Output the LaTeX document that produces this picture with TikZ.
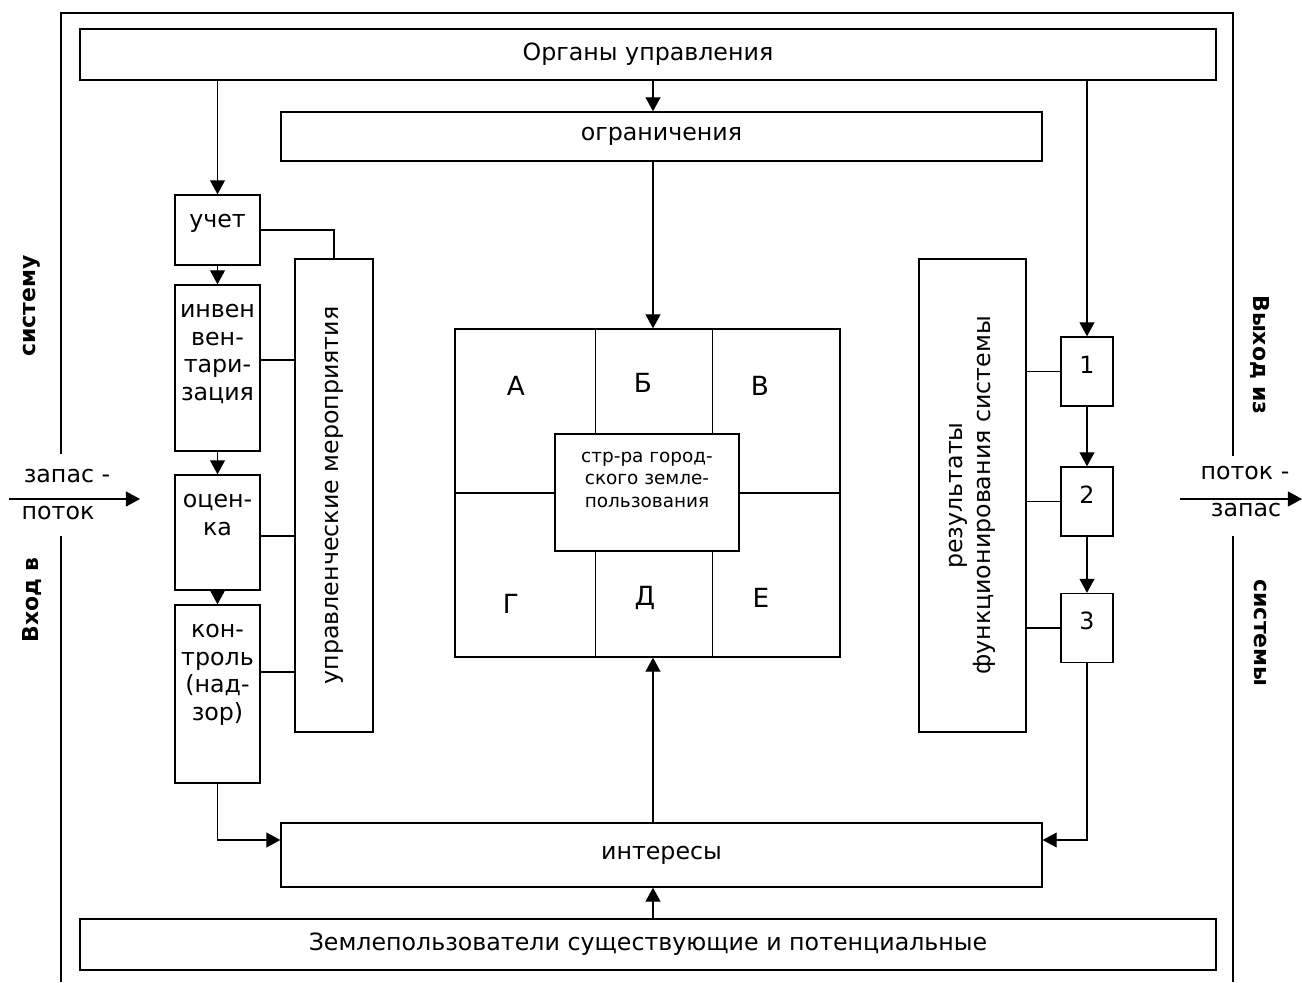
\documentclass[tikz,border=0pt]{standalone}
\usepackage{fontspec}
\setmainfont{DejaVu Sans}
\usetikzlibrary{arrows.meta,calc,positioning}
\newcommand{\toptext}[1]{\parbox[t]{2.5cm}{\centering #1}}

\begin{document}
\begin{tikzpicture}[
    x=0.02cm, y=-0.02cm,
    box/.style={draw, line width=0.75pt, inner sep=0pt, fill=white},
    sz/.style 2 args={minimum width=#1*0.02cm, minimum height=#2*0.02cm},
    lbl/.style={font=\fontsize{13.5}{15.8}\selectfont, inner sep=0pt},
    letter/.style={font=\fontsize{15}{17}\selectfont, inner sep=0pt, anchor=base},
    small/.style={font=\fontsize{10.5}{12.8}\selectfont, inner sep=0pt},
    side/.style={font=\fontsize{12.5}{14}\selectfont\bfseries, inner sep=0pt},
    num/.style={box, sz={52}{69}, lbl, text depth=8pt},
    wire/.style={line width=0.75pt},
    frame/.style={line width=1pt},
    >={Triangle[length=8pt,width=8.5pt]}
  ]
  \useasboundingbox (0,0) rectangle (1302,983);

  % outer frame
  \draw[frame] (61,454) -- (61,13) -- (1233,13) -- (1233,456);
  \draw[frame] (61,536) -- (61,982);
  \draw[frame] (1233,536) -- (1233,982);

  \node[box, sz={1136}{51}, lbl] (org) at (648,54.5) {Органы управления};
  \node[box, sz={761}{49}, lbl] (limit) at (661.5,136.5) {ограничения};
  \node[box, sz={761}{64}, lbl] (interes) at (661.5,855) {интересы};
  \node[box, sz={1136}{51}, lbl] (zemle) at (648,944.5)
    {Землепользователи существующие и потенциальные};

  % left column
  \node[box, sz={85}{70}] (uchet) at (217.5,230) {};
  \node[box, sz={85}{166}] (inv) at (217.5,368) {};
  \node[box, sz={85}{115}] (ocen) at (217.5,532.5) {};
  \node[box, sz={85}{178}] (kontr) at (217.5,694) {};
  \node[lbl, anchor=base] (uchetT) at ($(uchet.north)+(0,33)$) {\toptext{учет}};
  \node[lbl, anchor=base] (invT) at ($(inv.north)+(0,33)$)
    {\toptext{инвен\\вен-\\тари-\\зация}};
  \node[lbl, anchor=base] (ocenT) at ($(ocen.north)+(0,33)$) {\toptext{оцен-\\ка}};
  \node[lbl, anchor=base] (kontrT) at ($(kontr.north)+(0,33)$)
    {\toptext{кон-\\троль\\(над-\\зор)}};
  \node[box, sz={78}{473}] (meropr) at (334,495.5) {};
  \node[lbl, rotate=90] (meroprT) at (meropr) {управленческие мероприятия};

  % right column
  \node[box, sz={107}{473}] (rez) at (972.5,495.5) {};
  \node[lbl, rotate=90, align=center] (rezT) at (rez)
    {результаты\\функционирования системы};
  \node[num] (b1) at (1087,371.5) {1};
  \node[num] (b2) at (1087,501.5) {2};
  \node[num] (b3) at (1087,628) {3};

  % structure
  \node[box, sz={385}{328}] (grid) at (647.5,493) {};
  \draw[wire] ($(grid.north west)+(141,0)$) -- ($(grid.south west)+(141,0)$);
  \draw[wire] ($(grid.north west)+(258,0)$) -- ($(grid.south west)+(258,0)$);
  \draw[wire] (grid.west) -- (grid.east);
  \node[box, sz={184}{117}] (core) at (647,492.5) {};
  \node[small, anchor=base] (coreT) at ($(core.north)+(0,29)$)
    {\parbox[t]{3cm}{\centering стр-ра город-\\ского земле-\\пользования}};
  \node[letter] (cA) at (516,395) {А};
  \node[letter] (cB) at (643,392) {Б};
  \node[letter] (cV) at (760,396) {В};
  \node[letter] (cG) at (511,613) {Г};
  \node[letter] (cD) at (645,605) {Д};
  \node[letter] (cE) at (761,607) {Е};

  % vertical arrows
  \coordinate (spine) at (653,0);
  \draw[wire,->] (org.south -| spine) -- (limit.north -| spine);
  \draw[wire,->] (limit.south -| spine) -- (grid.north -| spine);
  \draw[wire,->] (interes.north -| spine) -- (grid.south -| spine);
  \draw[wire,->] (zemle.north -| spine) -- (interes.south -| spine);

  \draw[wire,->] (org.south -| uchet) -- (uchet.north);
  \draw[wire,->] (uchet.south) -- (inv.north);
  \draw[wire,->] (inv.south) -- (ocen.north);
  \draw[wire,->] (ocen.south) -- (kontr.north);
  \draw[wire] (uchet.east) -| (meropr.north);
  \draw[wire] ($(inv.east)+(0,-8)$) coordinate (invR) -- (invR -| meropr.west);
  \draw[wire] ($(ocen.east)+(0,3.5)$) coordinate (ocenR) -- (ocenR -| meropr.west);
  \draw[wire] ($(kontr.east)+(0,-22)$) coordinate (kontrR) -- (kontrR -| meropr.west);
  \draw[wire,->] (kontr.south) |- ($(interes.west)+(0,-15)$);

  \draw[wire,->] (org.south -| b1) -- (b1.north);
  \draw[wire,->] (b1.south) -- (b2.north);
  \draw[wire,->] (b2.south) -- (b3.north);
  \draw[wire] (b1.west) -- (b1.west -| rez.east);
  \draw[wire] (b2.west) -- (b2.west -| rez.east);
  \draw[wire] (b3.west) -- (b3.west -| rez.east);
  \draw[wire,->] (b3.south) |- ($(interes.east)+(0,-15)$);

  % input and output
  \coordinate (inTail) at (9,499);
  \coordinate (inHead) at (140,499);
  \draw[wire,->] (inTail) -- (inHead);
  \node[lbl] (inTop) at (67,476) {запас -};
  \node[lbl] (inBot) at (58,513) {поток};
  \coordinate (outTail) at (1180,499);
  \coordinate (outHead) at (1302,499);
  \draw[wire,->] (outTail) -- (outHead);
  \node[lbl] (outTop) at (1245,473) {поток -};
  \node[lbl] (outBot) at (1246,510) {запас};

  \node[side, rotate=90] (inLbl) at (32,600) {Вход в};
  \node[side, rotate=90] (inLbl2) at (32,306) {систему};
  \node[side, rotate=-90] (outLbl) at (1260,355) {Выход из};
  \node[side, rotate=-90] (outLbl2) at (1260,633) {системы};
\end{tikzpicture}
\end{document}
